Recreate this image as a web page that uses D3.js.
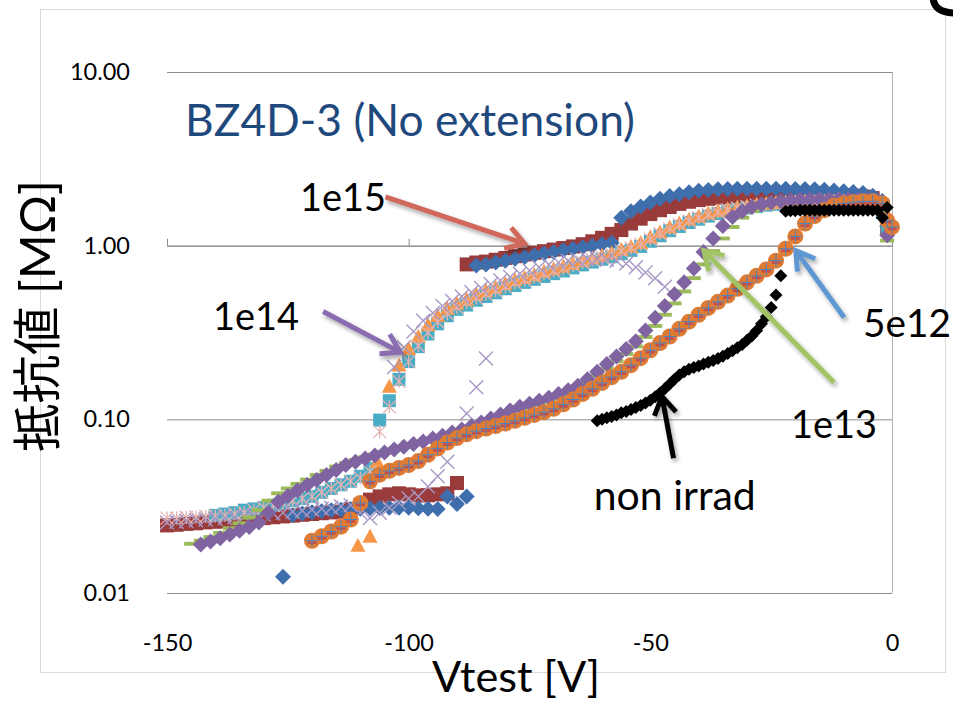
<!DOCTYPE html>
<html>
<head>
<meta charset="utf-8">
<script src="https://cdn.jsdelivr.net/npm/d3@7"></script>
<style>
  body { margin: 0; background: #fff; }
  svg { display: block; }
</style>
</head>
<body>
<svg id="chart" width="953" height="701"></svg>
<script>
// Resistance [MΩ] against test voltage [V]; every point is a [V, R] pair.
const xTicks = [-150, -100, -50, 0];
const yTicks = [0.01, 0.1, 1, 10];
const yTickLabels = ["0.01", "0.10", "1.00", "10.00"];

// 1e15 — square markers
const f1e15Square = [
  [-150,0.0245],[-148,0.0247],[-146,0.0250],[-144,0.0252],[-142,0.0255],[-140,0.0257],[-138,0.0260],
  [-136,0.0262],[-134,0.0265],[-132,0.0268],[-130,0.0270],[-128,0.0273],[-126,0.0276],[-124,0.0279],
  [-122,0.0282],[-120,0.0285],[-118,0.0288],[-116,0.0291],[-114,0.0294],[-112,0.0305],[-110,0.0320],
  [-108,0.0345],[-106,0.0360],[-104,0.0370],[-102,0.0375],[-100,0.0370],[-98,0.0365],[-96,0.0365],
  [-94,0.0370],[-92,0.0375],[-90,0.0430],
  [-88,0.78],[-86,0.80],[-84,0.81],[-82,0.83],[-80,0.85],[-78,0.87],[-76,0.89],[-74,0.91],[-72,0.93],
  [-70,0.95],[-68,0.97],[-66,0.99],[-64,1.02],[-62,1.06],[-60,1.11],[-58,1.17],[-56,1.23],[-54,1.34],
  [-52,1.43],[-50,1.52],[-48,1.60],[-46,1.67],[-44,1.74],[-42,1.79],[-40,1.83],[-38,1.86],[-36,1.89],
  [-34,1.91],[-32,1.93],[-30,1.94],[-28,1.95],[-26,1.95],[-24,1.95],[-22,1.95],[-20,1.95],[-18,1.95],
  [-16,1.95],[-14,1.95],[-12,1.95],[-10,1.95],[-8,1.94],[-6,1.92],[-4,1.88],[-2,1.70],[-1,1.27]
];

// 1e15 — diamond markers
const f1e15Diamond = [
  [-126,0.0124],[-124,0.0280],[-122,0.0287],[-120,0.0292],[-118,0.0296],[-116,0.0300],[-114,0.0302],
  [-112,0.0304],[-110,0.0306],[-108,0.0308],[-106,0.0309],[-104,0.0310],[-102,0.0310],[-100,0.0310],
  [-98,0.0308],[-96,0.0306],[-94,0.0305],[-92,0.0360],[-90,0.0325],[-88,0.0360],
  [-86,0.77],[-84,0.78],[-82,0.80],[-80,0.82],[-78,0.84],[-76,0.86],[-74,0.88],[-72,0.90],[-70,0.92],
  [-68,0.94],[-66,0.96],[-64,0.98],[-62,1.00],[-60,1.02],[-58,1.04],[-56,1.45],[-54,1.58],[-52,1.68],
  [-50,1.77],[-48,1.86],[-46,1.93],[-44,1.98],[-42,2.03],[-40,2.07],[-38,2.09],[-36,2.11],[-34,2.12],
  [-32,2.13],[-30,2.13],[-28,2.13],[-26,2.13],[-24,2.13],[-22,2.13],[-20,2.12],[-18,2.12],[-16,2.11],
  [-14,2.10],[-12,2.08],[-10,2.06],[-8,2.04],[-6,2.01],[-4,1.94],[-2,1.81],[-1,1.30]
];

// 1e14 — square markers
const f1e14Square = [
  [-140,0.0280],[-138,0.0285],[-136,0.0290],[-134,0.0300],[-132,0.0305],[-130,0.0310],[-128,0.0320],
  [-126,0.0330],[-124,0.0340],[-122,0.0350],[-120,0.0360],[-118,0.0380],[-116,0.0400],[-114,0.0420],
  [-112,0.0440],[-110,0.0470],[-108,0.0520],
  [-106,0.099],[-104,0.128],[-102,0.170],[-100,0.215],[-98,0.262],[-96,0.310],[-94,0.355],[-92,0.395],
  [-90,0.430],[-88,0.455],[-86,0.485],[-84,0.510],[-82,0.535],[-80,0.565],[-78,0.590],[-76,0.615],
  [-74,0.640],[-72,0.665],[-70,0.690],[-68,0.715],[-66,0.745],[-64,0.775],[-62,0.805],[-60,0.835],
  [-58,0.865],[-56,0.900],[-54,0.940],[-52,0.990],[-50,1.06],[-48,1.14],[-46,1.22],[-44,1.29],
  [-42,1.36],[-40,1.42],[-38,1.48],[-36,1.53],[-34,1.58],[-32,1.62],[-30,1.65],[-28,1.68],[-26,1.71],
  [-24,1.73],[-22,1.75],[-20,1.76],[-18,1.77],[-16,1.77],[-14,1.77],[-12,1.77],[-10,1.77],[-8,1.77],
  [-6,1.77],[-4,1.75],[-2,1.55],[-1,1.25]
];

// 1e14 — triangle markers
const f1e14Triangle = [
  [-110.5,0.0188],[-108,0.0212],[-106.5,0.057],
  [-104,0.155],[-102,0.205],[-100,0.255],[-98,0.300],[-96,0.350],[-94,0.395],[-92,0.435],[-90,0.465],
  [-88,0.490],[-86,0.525],[-84,0.550],[-82,0.575],[-80,0.605],[-78,0.635],[-76,0.655],[-74,0.680],
  [-72,0.710],[-70,0.735],[-68,0.760],[-66,0.790],[-64,0.820],[-62,0.850],[-60,0.880],[-58,0.910],
  [-56,0.950],[-54,0.990],[-52,1.04],[-50,1.12],[-48,1.20],[-46,1.28],[-44,1.35],[-42,1.42],[-40,1.48],
  [-38,1.54],[-36,1.59],[-34,1.63],[-32,1.67],[-30,1.70],[-28,1.73],[-26,1.75],[-24,1.77],[-22,1.78],
  [-20,1.79],[-18,1.80],[-16,1.80],[-14,1.81],[-12,1.81],[-10,1.81],[-8,1.81],[-6,1.80],[-4,1.79],
  [-2,1.72],[-1,1.50]
];

// 1e14 — asterisk markers
const f1e14Star = [
  [-150,0.0270],[-148,0.0270],[-146,0.0272],[-144,0.0274],[-142,0.0276],[-140,0.0278],[-138,0.0280],
  [-136,0.0285],[-134,0.0290],[-132,0.0300],[-130,0.0310],[-128,0.0320],[-126,0.0330],[-124,0.0340],
  [-122,0.0350],[-120,0.0360],[-118,0.0380],[-116,0.0400],[-114,0.0420],[-112,0.0440],[-110,0.0460],
  [-108,0.0500],
  [-106,0.085],[-104,0.118],[-102,0.165],[-100,0.215],[-98,0.265],[-96,0.315],[-94,0.365],[-92,0.405],
  [-90,0.440],[-88,0.470],[-86,0.500],[-84,0.525],[-82,0.550],[-80,0.580],[-78,0.610],[-76,0.635],
  [-74,0.660],[-72,0.690],[-70,0.715],[-68,0.740],[-66,0.770],[-64,0.800],[-62,0.830],[-60,0.860],
  [-58,0.890],[-56,0.930],[-54,0.970],[-52,1.02],[-50,1.09],[-48,1.17],[-46,1.25],[-44,1.32],[-42,1.39],
  [-40,1.45],[-38,1.51],[-36,1.56],[-34,1.61],[-32,1.65],[-30,1.68],[-28,1.71],[-26,1.73],[-24,1.75],
  [-22,1.77],[-20,1.78],[-18,1.79],[-16,1.79],[-14,1.80],[-12,1.80],[-10,1.80],[-8,1.80],[-6,1.79],
  [-4,1.77],[-2,1.65]
];

// 1e14 — cross markers
const f1e14Cross = [
  [-150,0.0255],[-148,0.0257],[-146,0.0260],[-144,0.0262],[-142,0.0265],[-140,0.0268],[-138,0.0270],
  [-136,0.0273],[-134,0.0276],[-132,0.0280],[-130,0.0283],[-128,0.0287],[-126,0.0290],[-124,0.0294],
  [-122,0.0298],[-120,0.0302],[-118,0.0306],[-116,0.0310],[-114,0.0315],[-112,0.0320],[-110,0.0290],
  [-108,0.0270],[-106,0.0290],[-104,0.0310],[-102,0.0330],[-100,0.0350],[-98,0.0360],[-96,0.0410],
  [-94,0.0470],[-92,0.0570],[-90,0.0830],[-88,0.108],[-86,0.153],[-84,0.224],
  [-103,0.20],[-101,0.26],[-99,0.32],[-97,0.37],[-95,0.41],[-93,0.45],[-91,0.48],[-89,0.51],[-87,0.54],
  [-85,0.57],[-83,0.60],[-81,0.63],[-79,0.66],[-77,0.69],[-75,0.72],[-73,0.75],[-71,0.78],[-69,0.80],
  [-67,0.82],[-65,0.83],[-63,0.84],[-61,0.84],[-59,0.83],[-57,0.82],[-55,0.79],[-53,0.75],[-51,0.70],
  [-49,0.65],[-47,0.58]
];

// 1e13 — dash markers
const f1e13Dash = [
  [-145,0.0192],[-143,0.0200],[-141,0.0210],[-139,0.0222],[-137,0.0236],[-135,0.0252],[-133,0.0272],
  [-131,0.0300],[-129,0.0340],[-127,0.0375],[-125,0.0400],[-123,0.0425],[-121,0.0450],[-119,0.0478],
  [-117,0.0505],[-115,0.0535],[-113,0.0560],[-111,0.0583],[-109,0.0605],[-107,0.0627],[-105,0.0650],
  [-103,0.0672],[-101,0.0695],[-99,0.0718],[-97,0.0742],[-95,0.0768],[-93,0.0795],[-91,0.0825],
  [-89,0.0858],[-87,0.0895],[-85,0.0935],[-83,0.0980],[-81,0.1030],[-79,0.1085],[-77,0.1140],
  [-75,0.1190],[-73,0.1240],[-71,0.1290],[-69,0.1350],[-67,0.1420],[-65,0.1500],[-63,0.1620],
  [-61,0.1780],[-59,0.1960],[-57,0.2160],[-55,0.2380],[-53,0.2630],[-51,0.2980],[-49,0.3450],
  [-47,0.4000],[-45,0.4650],[-43,0.5450],[-41,0.6500],[-39,0.7800],[-37,0.9300],[-35,1.100],
  [-33,1.280],[-31,1.450],[-29,1.580],[-27,1.680],[-25,1.740],[-23,1.780],[-21,1.800],[-19,1.815],
  [-17,1.825],[-15,1.830],[-13,1.835],[-11,1.835],[-9,1.835],[-7,1.830],[-5,1.820],[-3,1.780],[-1,1.07]
];

// 1e13 — diamond markers
const f1e13Diamond = [
  [-143,0.0190],[-141,0.0198],[-139,0.0207],[-137,0.0217],[-135,0.0228],[-133,0.0240],[-131,0.0255],
  [-129,0.0290],[-127,0.0335],[-125,0.0362],[-123,0.0390],[-121,0.0418],[-119,0.0447],[-117,0.0478],
  [-115,0.0510],[-113,0.0545],[-111,0.0570],[-109,0.0595],[-107,0.0620],[-105,0.0645],[-103,0.0670],
  [-101,0.0695],[-99,0.0720],[-97,0.0745],[-95,0.0775],[-93,0.0805],[-91,0.0840],[-89,0.0875],
  [-87,0.0915],[-85,0.0960],[-83,0.1010],[-81,0.1065],[-79,0.1125],[-77,0.118],[-75,0.123],[-73,0.128],
  [-71,0.133],[-69,0.140],[-67,0.147],[-65,0.156],[-63,0.170],[-61,0.188],[-59,0.208],[-57,0.230],
  [-55,0.254],[-53,0.282],[-51,0.325],[-49,0.385],[-47,0.450],[-45,0.525],[-43,0.615],[-41,0.740],
  [-39,0.920],[-37,1.10],[-35,1.30],[-33,1.46],[-31,1.58],[-29,1.67],[-27,1.73],[-25,1.77],[-23,1.80],
  [-21,1.82],[-19,1.83],[-17,1.84],[-15,1.85],[-13,1.85],[-11,1.85],[-9,1.85],[-7,1.84],[-5,1.83],
  [-3,1.80],[-1,1.15]
];

// 5e12 — circle markers with dash and plus overlays
const f5e12 = [
  [-120,0.0200],[-118,0.0212],[-116,0.0226],[-114,0.0241],[-112,0.0265],[-110,0.0330],[-108,0.0440],
  [-106,0.0480],[-104,0.0505],[-102,0.0525],[-100,0.0545],[-98,0.0575],[-96,0.0625],[-94,0.0680],
  [-92,0.0735],[-90,0.0780],[-88,0.0820],[-86,0.0855],[-84,0.0885],[-82,0.0915],[-80,0.0945],
  [-78,0.0980],[-76,0.102],[-74,0.106],[-72,0.110],[-70,0.115],[-68,0.122],[-66,0.130],[-64,0.140],
  [-62,0.150],[-60,0.162],[-58,0.175],[-56,0.188],[-54,0.205],[-52,0.225],[-50,0.250],[-48,0.275],
  [-46,0.300],[-44,0.332],[-42,0.365],[-40,0.400],[-38,0.438],[-36,0.475],[-34,0.516],[-32,0.565],
  [-30,0.615],[-28,0.670],[-26,0.730],[-24,0.820],[-22,0.960],[-20,1.13],[-18,1.34],[-16,1.48],
  [-14,1.60],[-12,1.70],[-10,1.75],[-8,1.78],[-6,1.80],[-4,1.80],[-2,1.75],[-1,1.40],[0,1.28]
];

// non irrad — small diamond markers
const nonIrrad = [
  [-61,0.098],[-60,0.100],[-59,0.102],[-58,0.104],[-57,0.106],[-56,0.109],[-55,0.111],[-54,0.114],
  [-53,0.117],[-52,0.120],[-51,0.124],[-50,0.129],[-49,0.135],[-48,0.142],[-47,0.150],[-46,0.160],
  [-45,0.170],[-44,0.180],[-43,0.188],[-42,0.194],[-41,0.199],[-40,0.203],[-39,0.208],[-38,0.213],
  [-37,0.218],[-36,0.224],[-35,0.231],[-34,0.239],[-33,0.248],[-32,0.258],[-31,0.270],[-30,0.285],
  [-29,0.302],[-28,0.325],[-27,0.355],[-26,0.390],[-25,0.440],[-24,0.520],[-23,0.670],
  [-22,1.58],[-21,1.59],[-20,1.59],[-19,1.60],[-18,1.60],[-17,1.60],[-16,1.60],[-15,1.60],[-14,1.60],
  [-13,1.60],[-12,1.60],[-11,1.60],[-10,1.60],[-9,1.60],[-8,1.60],[-7,1.60],[-6,1.60],[-5,1.60],
  [-4,1.60],[-3,1.60],[-2,1.45],[-1,1.66]
];

// Callout labels and arrows, placed in data units
const callouts = [
  { text: "1e15",      lx: -122.5, ly: 1.59,  color: "#d0675b", from: [-104.8, 1.91],  to: [-76.0, 1.027] },
  { text: "1e14",      lx: -140.5, ly: 0.329, color: "#8a6db0", from: [-117.7, 0.418], to: [-101.7, 0.243] },
  { text: "5e12",      lx: -6.0,   ly: 0.296, color: "#5f97d2", from: [-9.9, 0.386],   to: [-19.9, 0.936] },
  { text: "1e13",      lx: -20.9,  ly: 0.0778, color: "#a2c466", from: [-12.0, 0.163], to: [-38.9, 0.936] },
  { text: "non irrad", lx: -61.7,  ly: 0.0300, color: "#000000", from: [-45.2, 0.0597], to: [-47.6, 0.1356] }
];

const svg = d3.select("#chart");
const plot = { left: 167, right: 892, top: 72, bottom: 593 };
const x = d3.scaleLinear().domain([-150, 0]).range([plot.left, plot.right]);
const y = d3.scaleLog().domain([0.01, 10]).range([plot.bottom, plot.top]);
const FONT = "Lato, 'Open Sans', sans-serif";

const defs = svg.append("defs");
defs.append("filter").attr("id", "shadow").attr("x", "-20%").attr("y", "-20%")
  .attr("width", "140%").attr("height", "140%")
  .append("feDropShadow").attr("dx", 2).attr("dy", 3).attr("stdDeviation", 2)
  .attr("flood-color", "#000").attr("flood-opacity", 0.35);

// outer chart frame
svg.append("rect").attr("x", 40.5).attr("y", 9.5).attr("width", 905).attr("height", 663)
  .attr("fill", "#fff").attr("stroke", "#d9d9d9");

// horizontal gridlines
svg.append("g").attr("transform", `translate(${plot.left},0)`)
  .call(d3.axisLeft(y).tickValues(yTicks).tickSize(-(plot.right - plot.left)).tickFormat(""))
  .call(g => g.select(".domain").remove())
  .call(g => g.selectAll("line").attr("stroke", "#8c8c8c"));

// right edge of the plot area
svg.append("line").attr("x1", plot.right + 0.5).attr("x2", plot.right + 0.5)
  .attr("y1", plot.top).attr("y2", plot.bottom).attr("stroke", "#b5b5b5");

// value-axis tick labels
svg.append("g").attr("transform", `translate(${plot.left},0)`)
  .call(d3.axisLeft(y).tickValues(yTicks).tickSize(0).tickPadding(37)
    .tickFormat((d, i) => yTickLabels[i]))
  .call(g => g.select(".domain").remove())
  .call(g => g.selectAll("text").attr("font-family", FONT).attr("font-size", 23.5).attr("fill", "#000"));

// horizontal axis line crossing at 1 MΩ, with upward ticks
svg.append("g").attr("transform", `translate(0,${y(1)})`)
  .call(d3.axisTop(x).tickValues(xTicks).tickSize(7).tickSizeOuter(0).tickFormat(""))
  .call(g => g.selectAll("line, path").attr("stroke", "#8c8c8c"));

// voltage tick labels along the bottom
svg.append("g").attr("transform", `translate(0,${plot.bottom})`)
  .call(d3.axisBottom(x).tickValues(xTicks).tickSize(0).tickPadding(41).tickFormat(d => String(d)))
  .call(g => g.select(".domain").remove())
  .call(g => g.selectAll("text").attr("font-family", FONT).attr("font-size", 23.5).attr("fill", "#000"));

// marker shapes (h = half size)
const shapes = {
  diamond: h => `M0,${-h}L${h},0L0,${h}L${-h},0Z`,
  square: h => `M${-h},${-h}H${h}V${h}H${-h}Z`,
  triangle: h => `M0,${-h}L${h},${h * 0.85}L${-h},${h * 0.85}Z`,
  circle: h => `M${h},0A${h},${h} 0 1,1 ${-h},0A${h},${h} 0 1,1 ${h},0Z`,
  cross: h => `M${-h},${-h}L${h},${h}M${-h},${h}L${h},${-h}`,
  plus: h => `M${-h},0H${h}M0,${-h}V${h}`,
  star: h => `M${-h},${-h}L${h},${h}M${-h},${h}L${h},${-h}M0,${-h}V${h}`,
  dash: h => `M${-h},${-h * 0.28}H${h}V${h * 0.28}H${-h}Z`
};

// draw order: later series sit on top
const layers = [
  { data: f1e15Square,   shape: "square",   h: 7,   fill: "#9a3b3b" },
  { data: f1e15Diamond,  shape: "diamond",  h: 8,   fill: "#3f6ead" },
  { data: f1e14Square,   shape: "square",   h: 6.5, fill: "#4bacc6" },
  { data: f1e14Triangle, shape: "triangle", h: 7.5, fill: "#f79646" },
  { data: f1e14Star,     shape: "star",     h: 6.5, stroke: "#e3b3b2", sw: 1.3 },
  { data: f1e14Cross,    shape: "cross",    h: 7,   stroke: "#a898c4", sw: 1.4 },
  { data: f1e13Dash,     shape: "dash",     h: 7,   fill: "#9bbb59" },
  { data: f1e13Diamond,  shape: "diamond",  h: 8,   fill: "#8064a2" },
  { data: f5e12,         shape: "circle",   h: 8,   fill: "#e07b34" },
  { data: f5e12,         shape: "dash",     h: 4.5, fill: "#c0504d", dy: 2 },
  { data: f5e12,         shape: "plus",     h: 6.5, stroke: "#4f81bd", sw: 1 },
  { data: nonIrrad,      shape: "diamond",  h: 6.5, fill: "#000000" }
];

const marks = svg.append("g");
layers.forEach(L => {
  marks.append("g").selectAll("path").data(L.data).join("path")
    .attr("transform", d => `translate(${x(d[0])},${y(d[1]) + (L.dy || 0)})`)
    .attr("d", shapes[L.shape](L.h))
    .attr("fill", L.fill || "none")
    .attr("stroke", L.stroke || "none")
    .attr("stroke-width", L.sw || 0);
});

// fit a text element to a given width by scaling its font size
function fitWidth(sel, width) {
  const w = sel.node().getComputedTextLength();
  const fs = parseFloat(sel.attr("font-size"));
  sel.attr("font-size", fs * width / w);
  return sel;
}

// callout arrows with open heads
const arrows = svg.append("g").attr("filter", "url(#shadow)");
callouts.forEach(c => {
  const x0 = x(c.from[0]), y0 = y(c.from[1]), x1 = x(c.to[0]), y1 = y(c.to[1]);
  const a = Math.atan2(y1 - y0, x1 - x0), L = 21, s = 0.55;
  const p1 = [x1 - L * Math.cos(a - s), y1 - L * Math.sin(a - s)];
  const p2 = [x1 - L * Math.cos(a + s), y1 - L * Math.sin(a + s)];
  arrows.append("path")
    .attr("d", `M${x0},${y0}L${x1},${y1}M${p1[0]},${p1[1]}L${x1},${y1}L${p2[0]},${p2[1]}`)
    .attr("fill", "none").attr("stroke", c.color).attr("stroke-width", 5)
    .attr("stroke-linejoin", "miter").attr("stroke-linecap", "butt");
});

// callout labels
const labelWidths = { "1e15": 86, "1e14": 86, "5e12": 88, "1e13": 86, "non irrad": 162 };
callouts.forEach(c => {
  const t = svg.append("text").attr("x", x(c.lx)).attr("y", y(c.ly))
    .attr("font-family", FONT).attr("font-size", 36).attr("fill", "#000").text(c.text);
  fitWidth(t, labelWidths[c.text]);
});

// chart title
fitWidth(svg.append("text").attr("x", 185).attr("y", 136)
  .attr("font-family", FONT).attr("font-size", 42).attr("fill", "#1f497d")
  .text("BZ4D-3 (No extension)"), 450);

// axis titles
fitWidth(svg.append("text").attr("transform", "translate(36,316) rotate(-90)")
  .attr("text-anchor", "middle").attr("dominant-baseline", "central")
  .attr("font-family", "Lato, 'Noto Sans CJK JP', sans-serif").attr("font-size", 44).attr("fill", "#000")
  .text("抵抗値 [MΩ]"), 272);

fitWidth(svg.append("text").attr("x", 516).attr("y", 692).attr("text-anchor", "middle")
  .attr("font-family", FONT).attr("font-size", 44).attr("fill", "#000")
  .text("Vtest [V]"), 168);

// edge of a large glyph cut off at the top-right corner
svg.append("path").attr("d", "M933,-2C934,8 941,13 956,13")
  .attr("fill", "none").attr("stroke", "#000").attr("stroke-width", 7);
</script>
</body>
</html>
